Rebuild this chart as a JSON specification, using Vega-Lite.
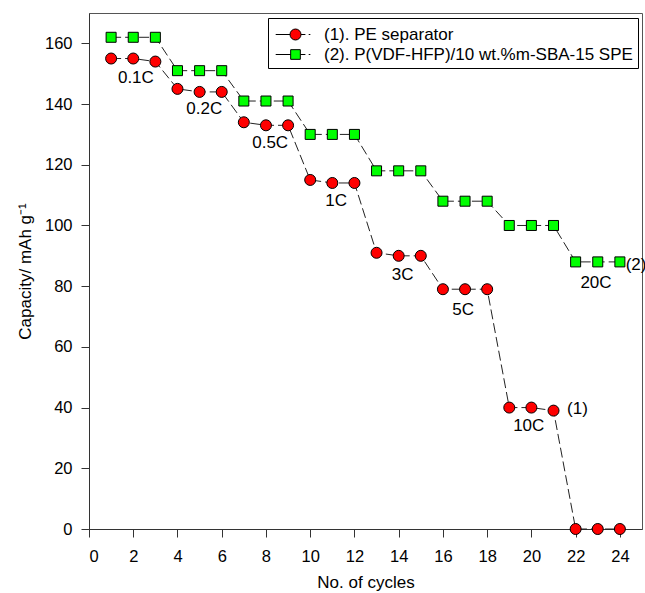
{
  "$schema": "https://vega.github.io/schema/vega-lite/v6.json",
  "width": 553,
  "height": 516,
  "autosize": "none",
  "padding": {"left": 89, "top": 13, "right": 3, "bottom": 64},
  "background": "white",
  "config": {
    "font": "Liberation Sans",
    "view": {"stroke": "#555", "strokeWidth": 1},
    "axis": {
      "grid": false,
      "domainColor": "#333",
      "tickColor": "#333",
      "tickSize": 8,
      "labelFont": "Liberation Sans",
      "labelFontSize": 16.5,
      "labelColor": "black",
      "titleFont": "Liberation Sans",
      "titleFontSize": 17,
      "titleFontWeight": "normal",
      "titleColor": "black"
    },
    "legend": {
      "labelFont": "Liberation Sans",
      "labelFontSize": 17,
      "labelColor": "black",
      "labelLimit": 0
    }
  },
  "datasets": {
    "series": [
      {"series": "(1). PE separator", "cycle": 1, "capacity": 155},
      {"series": "(1). PE separator", "cycle": 2, "capacity": 155},
      {"series": "(1). PE separator", "cycle": 3, "capacity": 154},
      {"series": "(1). PE separator", "cycle": 4, "capacity": 145},
      {"series": "(1). PE separator", "cycle": 5, "capacity": 144},
      {"series": "(1). PE separator", "cycle": 6, "capacity": 144},
      {"series": "(1). PE separator", "cycle": 7, "capacity": 134},
      {"series": "(1). PE separator", "cycle": 8, "capacity": 133},
      {"series": "(1). PE separator", "cycle": 9, "capacity": 133},
      {"series": "(1). PE separator", "cycle": 10, "capacity": 115},
      {"series": "(1). PE separator", "cycle": 11, "capacity": 114},
      {"series": "(1). PE separator", "cycle": 12, "capacity": 114},
      {"series": "(1). PE separator", "cycle": 13, "capacity": 91},
      {"series": "(1). PE separator", "cycle": 14, "capacity": 90},
      {"series": "(1). PE separator", "cycle": 15, "capacity": 90},
      {"series": "(1). PE separator", "cycle": 16, "capacity": 79},
      {"series": "(1). PE separator", "cycle": 17, "capacity": 79},
      {"series": "(1). PE separator", "cycle": 18, "capacity": 79},
      {"series": "(1). PE separator", "cycle": 19, "capacity": 40},
      {"series": "(1). PE separator", "cycle": 20, "capacity": 40},
      {"series": "(1). PE separator", "cycle": 21, "capacity": 39},
      {"series": "(1). PE separator", "cycle": 22, "capacity": 0},
      {"series": "(1). PE separator", "cycle": 23, "capacity": 0},
      {"series": "(1). PE separator", "cycle": 24, "capacity": 0},
      {"series": "(2). P(VDF-HFP)/10 wt.%m-SBA-15 SPE", "cycle": 1, "capacity": 162},
      {"series": "(2). P(VDF-HFP)/10 wt.%m-SBA-15 SPE", "cycle": 2, "capacity": 162},
      {"series": "(2). P(VDF-HFP)/10 wt.%m-SBA-15 SPE", "cycle": 3, "capacity": 162},
      {"series": "(2). P(VDF-HFP)/10 wt.%m-SBA-15 SPE", "cycle": 4, "capacity": 151},
      {"series": "(2). P(VDF-HFP)/10 wt.%m-SBA-15 SPE", "cycle": 5, "capacity": 151},
      {"series": "(2). P(VDF-HFP)/10 wt.%m-SBA-15 SPE", "cycle": 6, "capacity": 151},
      {"series": "(2). P(VDF-HFP)/10 wt.%m-SBA-15 SPE", "cycle": 7, "capacity": 141},
      {"series": "(2). P(VDF-HFP)/10 wt.%m-SBA-15 SPE", "cycle": 8, "capacity": 141},
      {"series": "(2). P(VDF-HFP)/10 wt.%m-SBA-15 SPE", "cycle": 9, "capacity": 141},
      {"series": "(2). P(VDF-HFP)/10 wt.%m-SBA-15 SPE", "cycle": 10, "capacity": 130},
      {"series": "(2). P(VDF-HFP)/10 wt.%m-SBA-15 SPE", "cycle": 11, "capacity": 130},
      {"series": "(2). P(VDF-HFP)/10 wt.%m-SBA-15 SPE", "cycle": 12, "capacity": 130},
      {"series": "(2). P(VDF-HFP)/10 wt.%m-SBA-15 SPE", "cycle": 13, "capacity": 118},
      {"series": "(2). P(VDF-HFP)/10 wt.%m-SBA-15 SPE", "cycle": 14, "capacity": 118},
      {"series": "(2). P(VDF-HFP)/10 wt.%m-SBA-15 SPE", "cycle": 15, "capacity": 118},
      {"series": "(2). P(VDF-HFP)/10 wt.%m-SBA-15 SPE", "cycle": 16, "capacity": 108},
      {"series": "(2). P(VDF-HFP)/10 wt.%m-SBA-15 SPE", "cycle": 17, "capacity": 108},
      {"series": "(2). P(VDF-HFP)/10 wt.%m-SBA-15 SPE", "cycle": 18, "capacity": 108},
      {"series": "(2). P(VDF-HFP)/10 wt.%m-SBA-15 SPE", "cycle": 19, "capacity": 100},
      {"series": "(2). P(VDF-HFP)/10 wt.%m-SBA-15 SPE", "cycle": 20, "capacity": 100},
      {"series": "(2). P(VDF-HFP)/10 wt.%m-SBA-15 SPE", "cycle": 21, "capacity": 100},
      {"series": "(2). P(VDF-HFP)/10 wt.%m-SBA-15 SPE", "cycle": 22, "capacity": 88},
      {"series": "(2). P(VDF-HFP)/10 wt.%m-SBA-15 SPE", "cycle": 23, "capacity": 88},
      {"series": "(2). P(VDF-HFP)/10 wt.%m-SBA-15 SPE", "cycle": 24, "capacity": 88}
    ],
    "labels": [
      {"label": "0.1C", "cycle": 2.12, "capacity": 148.6},
      {"label": "0.2C", "cycle": 5.21, "capacity": 138.5},
      {"label": "0.5C", "cycle": 8.19, "capacity": 127.2},
      {"label": "1C", "cycle": 11.17, "capacity": 108.1},
      {"label": "3C", "cycle": 14.18, "capacity": 83.6},
      {"label": "5C", "cycle": 16.91, "capacity": 72.3},
      {"label": "10C", "cycle": 19.88, "capacity": 34.0},
      {"label": "(1)", "cycle": 22.08, "capacity": 39.6},
      {"label": "20C", "cycle": 22.92, "capacity": 81.0},
      {"label": "(2)", "cycle": 24.73, "capacity": 87.0}
    ]
  },
  "layer": [
    {
      "data": {"name": "series"},
      "mark": {"type": "line", "stroke": "#222", "strokeWidth": 1, "strokeDash": [10, 4]},
      "encoding": {
        "x": {"field": "cycle", "type": "quantitative", "scale": {"domain": [0, 25], "nice": false},
              "axis": {"values": [0, 2, 4, 6, 8, 10, 12, 14, 16, 18, 20, 22, 24], "title": "No. of cycles", "labelPadding": 11, "titlePadding": 10}},
        "y": {"field": "capacity", "type": "quantitative", "scale": {"domain": [0, 170], "nice": false},
              "axis": {"values": [0, 20, 40, 60, 80, 100, 120, 140, 160], "title": "Capacity/ mAh g⁻¹", "labelPadding": 9, "titlePadding": 10}},
        "detail": {"field": "series"}
      }
    },
    {
      "data": {"name": "series"},
      "mark": {"type": "point", "size": 0, "filled": true, "opacity": 1, "strokeWidth": 1, "stroke": "black"},
      "encoding": {
        "x": {"field": "cycle", "type": "quantitative"},
        "y": {"field": "capacity", "type": "quantitative"},
        "shape": {"field": "series", "type": "nominal",
                  "scale": {"domain": ["(1). PE separator", "(2). P(VDF-HFP)/10 wt.%m-SBA-15 SPE"],
                            "range": ["M-0.8,0H0.5M1.5,0H1.9M2.2,0H2.35M0.5,0A0.5,0.5,0,1,1,1.5,0A0.5,0.5,0,1,1,0.5,0Z", "M-0.8,0H0.56M1.44,0H1.9M2.2,0H2.35M0.56,-0.44H1.44V0.44H0.56Z"]},
                  "legend": {"title": null}},
        "fill": {"field": "series", "type": "nominal",
                 "scale": {"domain": ["(1). PE separator", "(2). P(VDF-HFP)/10 wt.%m-SBA-15 SPE"], "range": ["#ff0000", "#00ff00"]},
                 "legend": {
                    "title": null,
                    "orient": "none",
                    "legendX": 179,
                    "legendY": 5,
                    "padding": 5,
                    "rowPadding": 0,
                    "labelOffset": 28,
                    "strokeColor": "black",
                    "fillColor": "white",
                    "symbolSize": 484,
                    "symbolStrokeColor": "black",
                    "symbolStrokeWidth": 1,
                    "symbolOpacity": 1
                  }}
      }
    },
    {
      "data": {"name": "series"},
      "mark": {"type": "point", "filled": true, "stroke": "black", "strokeWidth": 1, "opacity": 1},
      "encoding": {
        "x": {"field": "cycle", "type": "quantitative"},
        "y": {"field": "capacity", "type": "quantitative"},
        "shape": {"condition": {"test": "datum.series === '(1). PE separator'", "value": "circle"}, "value": "square"},
        "size": {"condition": {"test": "datum.series === '(1). PE separator'", "value": 121}, "value": 100},
        "color": {"field": "series", "type": "nominal",
                  "scale": {"domain": ["(1). PE separator", "(2). P(VDF-HFP)/10 wt.%m-SBA-15 SPE"], "range": ["#ff0000", "#00ff00"]},
                  "legend": null}
      }
    },
    {
      "data": {"name": "labels"},
      "mark": {"type": "text", "fontSize": 17, "font": "Liberation Sans", "color": "black", "align": "center", "baseline": "middle"},
      "encoding": {
        "x": {"field": "cycle", "type": "quantitative"},
        "y": {"field": "capacity", "type": "quantitative"},
        "text": {"field": "label"}
      }
    }
  ]
}
